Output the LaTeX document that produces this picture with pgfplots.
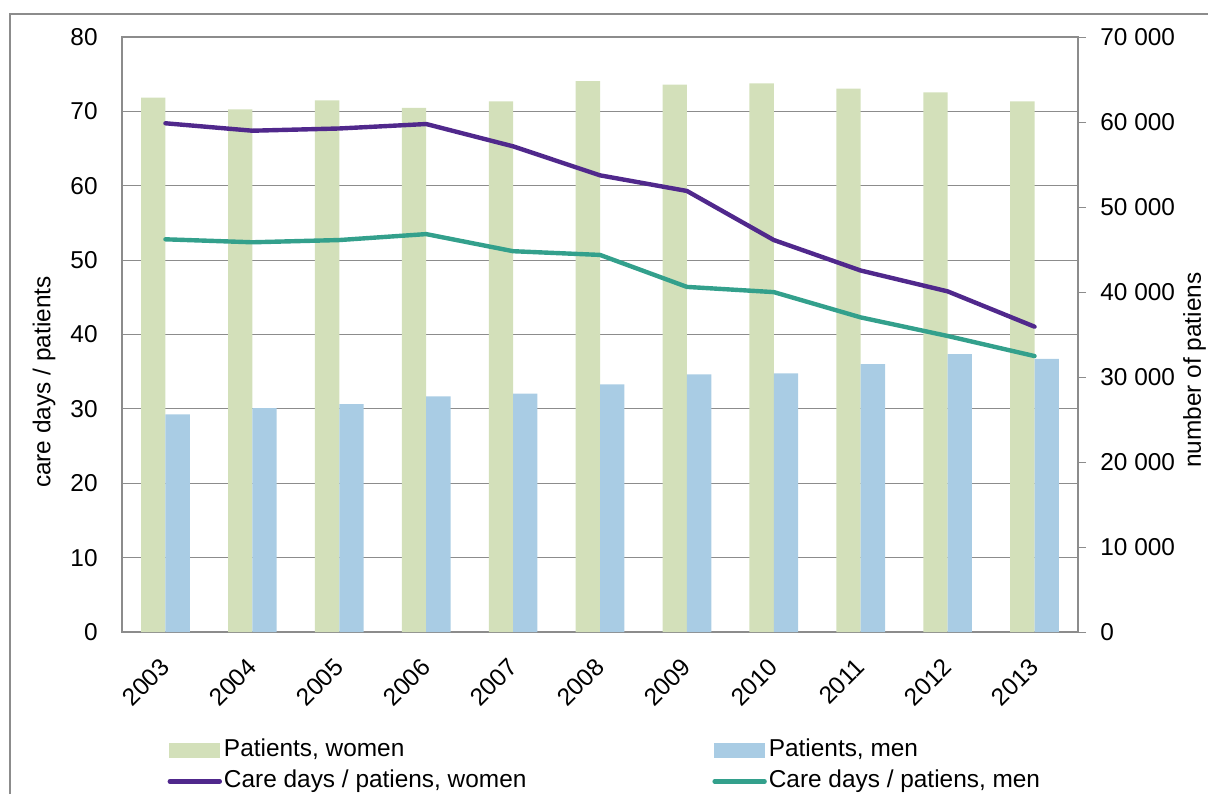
\documentclass[border=0pt]{standalone}
\usepackage{pgfplots}
\pgfplotsset{compat=1.18}
\usepackage{fontspec}
\setmainfont{Liberation Sans}
\definecolor{barG}{HTML}{D3E0BA}
\definecolor{barB}{HTML}{A9CCE4}
\definecolor{lineW}{HTML}{50288C}
\definecolor{lineM}{HTML}{33A08C}
\definecolor{axgray}{HTML}{8C8C8C}
\begin{document}
\begin{tikzpicture}[font=\fontsize{12.2}{14.5}\selectfont]
\useasboundingbox (0,0) rectangle (604pt,397pt);
\draw[axgray, line width=1pt] (5pt,0) -- (5pt,390pt) -- (604pt,390pt);
% bars on the right axis
\begin{axis}[
  at={(61pt,81pt)}, anchor=south west,
  width=478pt, height=297.5pt, scale only axis,
  xmin=-0.5, xmax=10.5,
  ymin=0, ymax=70000,
  scaled y ticks=false,
  xtick={0,1,2,3,4,5,6,7,8,9,10},
  xticklabels={2003,2004,2005,2006,2007,2008,2009,2010,2011,2012,2013},
  x tick style={draw=none},
  xticklabel style={rotate=45, anchor=north east, inner sep=0pt, xshift=-8pt, yshift=-3.5pt},
  ytick={0,10000,20000,30000,40000,50000,60000,70000},
  yticklabels={0,10 000,20 000,30 000,40 000,50 000,60 000,70 000},
  ytick pos=right, tick align=outside, major tick length=4pt,
  y tick style={axgray, line width=0.5pt},
  yticklabel style={inner sep=0pt, xshift=7pt},
  extra y ticks={8750,17500,26250,35000,43750,52500,61250},
  extra y tick labels={},
  extra y tick style={grid=major, major tick length=0pt},
  major grid style={axgray, line width=0.6pt},
  axis line style={axgray, line width=0.6pt},
  ylabel={number of patiens},
  ylabel style={at={(axis description cs:1.122,0.44)}, anchor=center, rotate=0},
]
\addplot[ybar, bar width=0.28, bar shift=-0.14, fill=barG, draw=none] coordinates {
(0,62860) (1,61490) (2,62550) (3,61650) (4,62430) (5,64820) (6,64390) (7,64550) (8,63920) (9,63490) (10,62430)};
\addplot[ybar, bar width=0.28, bar shift=0.14, fill=barB, draw=none] coordinates {
(0,25610) (1,26350) (2,26820) (3,27730) (4,28040) (5,29140) (6,30320) (7,30430) (8,31530) (9,32700) (10,32120)};
\end{axis}
% lines on the left axis
\begin{axis}[
  at={(61pt,81pt)}, anchor=south west,
  width=478pt, height=297.5pt, scale only axis,
  xmin=-0.5, xmax=10.5,
  ymin=0, ymax=80,
  hide x axis,
  axis y line*=left,
  axis line style={axgray, line width=0.6pt},
  ytick={0,10,20,30,40,50,60,70,80},
  yticklabels={0,10,20,30,40,50,60,70,80},
  major tick length=0pt,
  yticklabel style={inner sep=0pt, xshift=-12pt},
  ylabel={care days / patients},
  ylabel style={at={(axis description cs:-0.0816,0.42)}, anchor=center},
  legend columns=2,
  legend cell align=left,
  legend style={draw=none, fill=none, at={(axis description cs:0.041,-0.168)}, anchor=north west,
    nodes={inner sep=1pt, text height=9pt, text depth=3pt}, row sep=1.5pt,
    /tikz/every even column/.append style={column sep=92pt}},
]
\addlegendimage{legend image code/.code={\fill[barG] (1.5pt,-3.5pt) rectangle (26.5pt,3.5pt);}}
\addlegendimage{legend image code/.code={\fill[barB] (1.5pt,-3.5pt) rectangle (26.5pt,3.5pt);}}
\addplot[lineW, line width=2.2pt, mark=none, line join=round, line cap=round,
  legend image code/.code={\draw[lineW, line width=2.2pt, line cap=round] (1.5pt,0pt) -- (26.5pt,0pt);}] coordinates {
(0,68.4) (1,67.4) (2,67.7) (3,68.3) (4,65.3) (5,61.4) (6,59.3) (7,52.7) (8,48.6) (9,45.8) (10,41.05)};
\addplot[lineM, line width=2.2pt, mark=none, line join=round, line cap=round,
  legend image code/.code={\draw[lineM, line width=2.2pt, line cap=round] (1.5pt,0pt) -- (26.5pt,0pt);}] coordinates {
(0,52.8) (1,52.4) (2,52.7) (3,53.5) (4,51.2) (5,50.7) (6,46.4) (7,45.7) (8,42.3) (9,39.8) (10,37.1)};
\legend{{Patients, women}, {Patients, men}, {Care days / patiens, women}, {Care days / patiens, men}}
\end{axis}
\end{tikzpicture}
\end{document}
